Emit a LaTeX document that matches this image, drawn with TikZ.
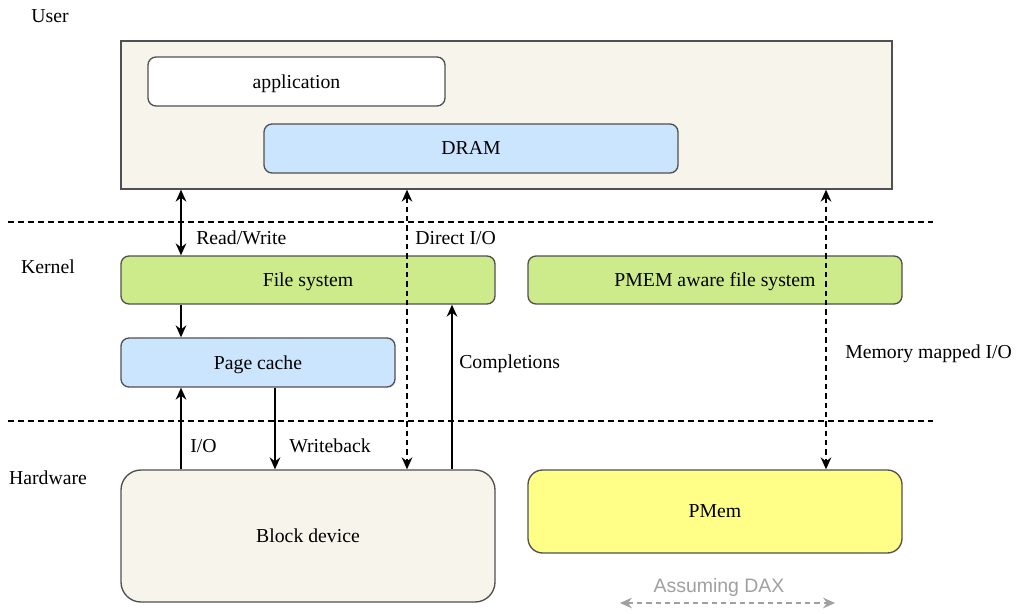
\documentclass[tikz,border=0pt]{standalone}
\usepackage{fontspec}
\setmainfont{Liberation Serif}
\newfontfamily\daxfont{Liberation Sans}
\usetikzlibrary{arrows.meta}
\definecolor{beige}{RGB}{247,244,236}
\definecolor{lblue}{RGB}{204,229,255}
\definecolor{lgreen}{RGB}{205,235,139}
\definecolor{lyellow}{RGB}{255,255,136}
\definecolor{edge}{RGB}{80,80,80}
\definecolor{daxgray}{RGB}{160,160,160}
\tikzset{
  box/.style={draw=edge, line width=1pt, rounded corners=6pt, inner sep=0pt, text depth=0.5pt, font=\fontsize{14.8}{16}\selectfont},
  lbl/.style={anchor=west, inner sep=0pt, font=\fontsize{14.8}{16}\selectfont},
  layer/.style={inner sep=0pt, font=\fontsize{14.8}{16}\selectfont},
  sep/.style={dash pattern=on 4.5pt off 3pt, line width=0.9pt},
  tip/.style={Stealth[length=9pt,width=8pt,inset=3pt]},
  conn/.style={line width=1pt, -{Stealth[length=9pt,width=8pt,inset=3pt]}},
  biconn/.style={line width=1pt, {Stealth[length=9pt,width=8pt,inset=3pt]}-{Stealth[length=9pt,width=8pt,inset=3pt]}},
  dconn/.style={biconn, dash pattern=on 4pt off 3pt}
}
\begin{document}
\begin{tikzpicture}[x=0.75pt,y=-0.75pt]
\useasboundingbox (0,0) rectangle (1019,613);
% layer labels
\node[layer] (user) at (50,16) {User};
\node[layer] (kernel) at (48,267) {Kernel};
\node[layer] (hw) at (48,478) {Hardware};
% separators
\coordinate (s1a) at (8,222); \coordinate (s1b) at (933,222);
\coordinate (s2a) at (8,421); \coordinate (s2b) at (933,421);
\draw[sep] (s1a) -- (s1b);
\draw[sep] (s2a) -- (s2b);
% boxes
\node[box, rounded corners=0pt, fill=beige, minimum width=578.25pt, minimum height=111pt] (userbox) at (506.5,115) {};
\node[box, fill=white, minimum width=222.75pt, minimum height=36.75pt] (app) at (296.5,81.5) {application};
\node[box, fill=lblue, minimum width=310.5pt, minimum height=36.75pt] (dram) at (471,148.5) {DRAM};
\node[box, fill=lgreen, minimum width=280.5pt, minimum height=36pt] (fs) at (308,280) {File system};
\node[box, fill=lgreen, minimum width=280.5pt, minimum height=36pt] (pmemfs) at (715,280) {PMEM aware file system};
\node[box, fill=lblue, minimum width=205.5pt, minimum height=36.75pt] (pc) at (258,362.5) {Page cache};
\node[box, fill=beige, rounded corners=15pt, minimum width=280.5pt, minimum height=99pt] (bd) at (308,536) {Block device};
\node[box, fill=lyellow, rounded corners=11pt, minimum width=280.5pt, minimum height=62.25pt] (pmem) at (715,511.5) {PMem};
% x positions of connectors
\coordinate (xa) at (181,0);
\coordinate (xb) at (275,0);
\coordinate (xc) at (407,0);
\coordinate (xd) at (452,0);
\coordinate (xe) at (826,0);
% connectors
\draw[biconn] (userbox.south -| xa) -- (fs.north -| xa);
\draw[dconn] (userbox.south -| xc) -- (bd.north -| xc);
\draw[dconn] (userbox.south -| xe) -- (pmem.north -| xe);
\draw[conn] (fs.south -| xa) -- (pc.north -| xa);
\draw[conn] (bd.north -| xa) -- (pc.south -| xa);
\draw[conn] (pc.south -| xb) -- (bd.north -| xb);
\draw[conn] (bd.north -| xd) -- (fs.south -| xd);
% connector labels
\node[lbl] (lrw) at (196,238) {Read/Write};
\node[lbl] (ldio) at (415,238) {Direct I/O};
\node[lbl] (lio) at (190,446) {I/O};
\node[lbl] (lwb) at (289,446) {Writeback};
\node[lbl] (lcomp) at (459,364) {Completions};
\node[lbl] (lmm) at (845,354) {Memory mapped I/O};
% DAX
\node[inner sep=0pt, text=daxgray, font=\daxfont\fontsize{14.6}{16}\selectfont] (dax) at (719,587) {Assuming DAX};
\coordinate (daxl) at (620,603); \coordinate (daxr) at (835,603);
\draw[daxgray, line width=1pt, dash pattern=on 4pt off 3pt, {Stealth[length=9pt,width=8pt,inset=3pt]}-{Stealth[length=9pt,width=8pt,inset=3pt]}] (daxl) -- (daxr);
\end{tikzpicture}
\end{document}
